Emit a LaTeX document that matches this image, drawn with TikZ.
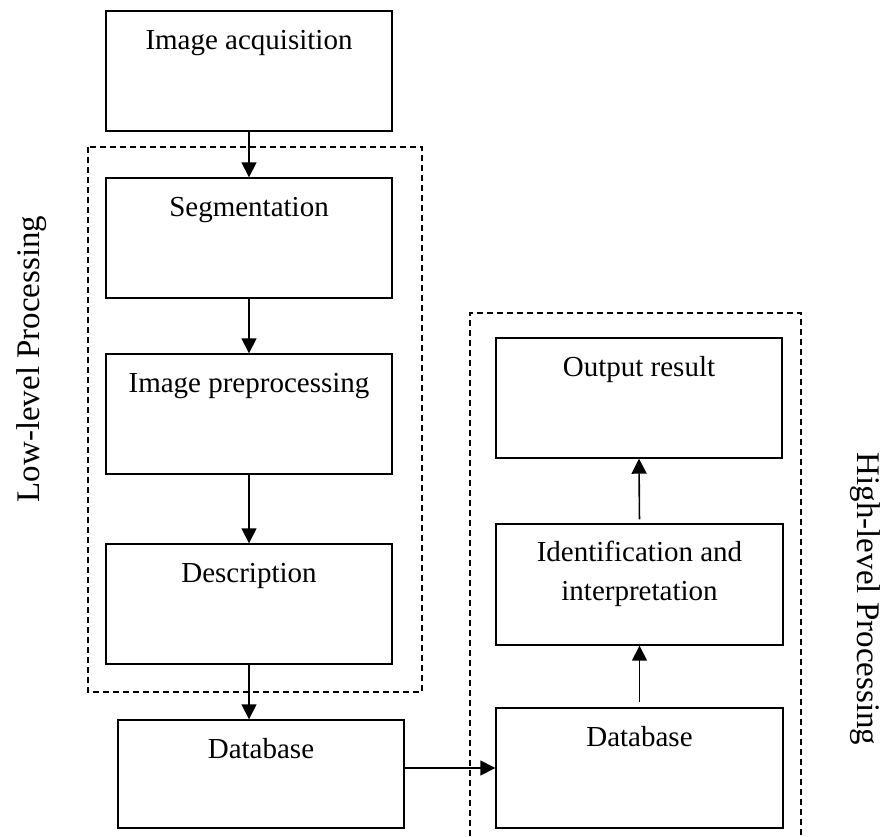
\documentclass[tikz,border=0pt]{standalone}
\usepackage{fontspec}
\setmainfont{Liberation Serif}
\usetikzlibrary{arrows.meta}
\begin{document}
\begin{tikzpicture}[x=1pt,y=-1pt,
  box/.style={draw, line width=1.4pt, minimum width=286pt, minimum height=120pt, inner sep=0pt},
  boxtext/.style={anchor=base, inner sep=0pt, font=\fontsize{29}{39.5}\selectfont, align=center},
  flow/.style={line width=1.6pt, -{Triangle[width=15pt,length=15pt]}},
  group/.style={line width=1.3pt, dash pattern=on 6pt off 4pt},
  side/.style={font=\fontsize{33}{40}\selectfont, inner sep=0pt}]
\useasboundingbox (0,0) rectangle (884,836);
% left column
\node[box] (acq) at (249,71) {};
\node[boxtext] (acqt) at ([yshift=-39pt]acq.north) {Image acquisition};
\node[box] (seg) at (249,238) {};
\node[boxtext] (segt) at ([yshift=-39pt]seg.north) {Segmentation};
\node[box] (pre) at (249,414) {};
\node[boxtext] (pret) at ([yshift=-39pt]pre.north) {Image preprocessing};
\node[box] (desc) at (249,604) {};
\node[boxtext] (desct) at ([yshift=-39pt]desc.north) {Description};
\node[box, minimum height=108pt] (db1) at (261,774) {};
\node[boxtext] (db1t) at ([yshift=-39pt]db1.north) {Database};
% right column
\node[box] (out) at (639,398) {};
\node[boxtext] (outt) at ([yshift=-39pt]out.north) {Output result};
\node[box, minimum width=287pt, minimum height=121pt] (ident) at (639.5,584.5) {};
\node[boxtext] (identt) at ([yshift=-77.5pt]ident.north) {Identification and\\interpretation};
\node[box, minimum width=287pt] (db2) at (639.5,768) {};
\node[boxtext] (db2t) at ([yshift=-39pt]db2.north) {Database};
% groups
\draw[group] (88,147) rectangle (422,692);
\draw[group] (470,836) -- (470,313) -- (801,313) -- (801,836);
% side labels
\node[side, rotate=90] (low) at (32,359) {Low-level Processing};
\node[side, rotate=-90] (high) at (865,599) {High-level Processing};
% connectors
\draw[flow] (acq.south) -- (seg.north);
\draw[flow] (seg.south) -- (pre.north);
\draw[flow] (pre.south) -- (desc.north);
\draw[flow] (desc.south) -- (desc.south |- db1.north);
\draw[flow] (db1.east |- db2.west) -- (db2.west);
\draw[flow, shorten <=5pt] (db2.north) -- (ident.south);
\draw[flow, shorten <=4pt] (ident.north) -- (out.south);
\end{tikzpicture}
\end{document}
